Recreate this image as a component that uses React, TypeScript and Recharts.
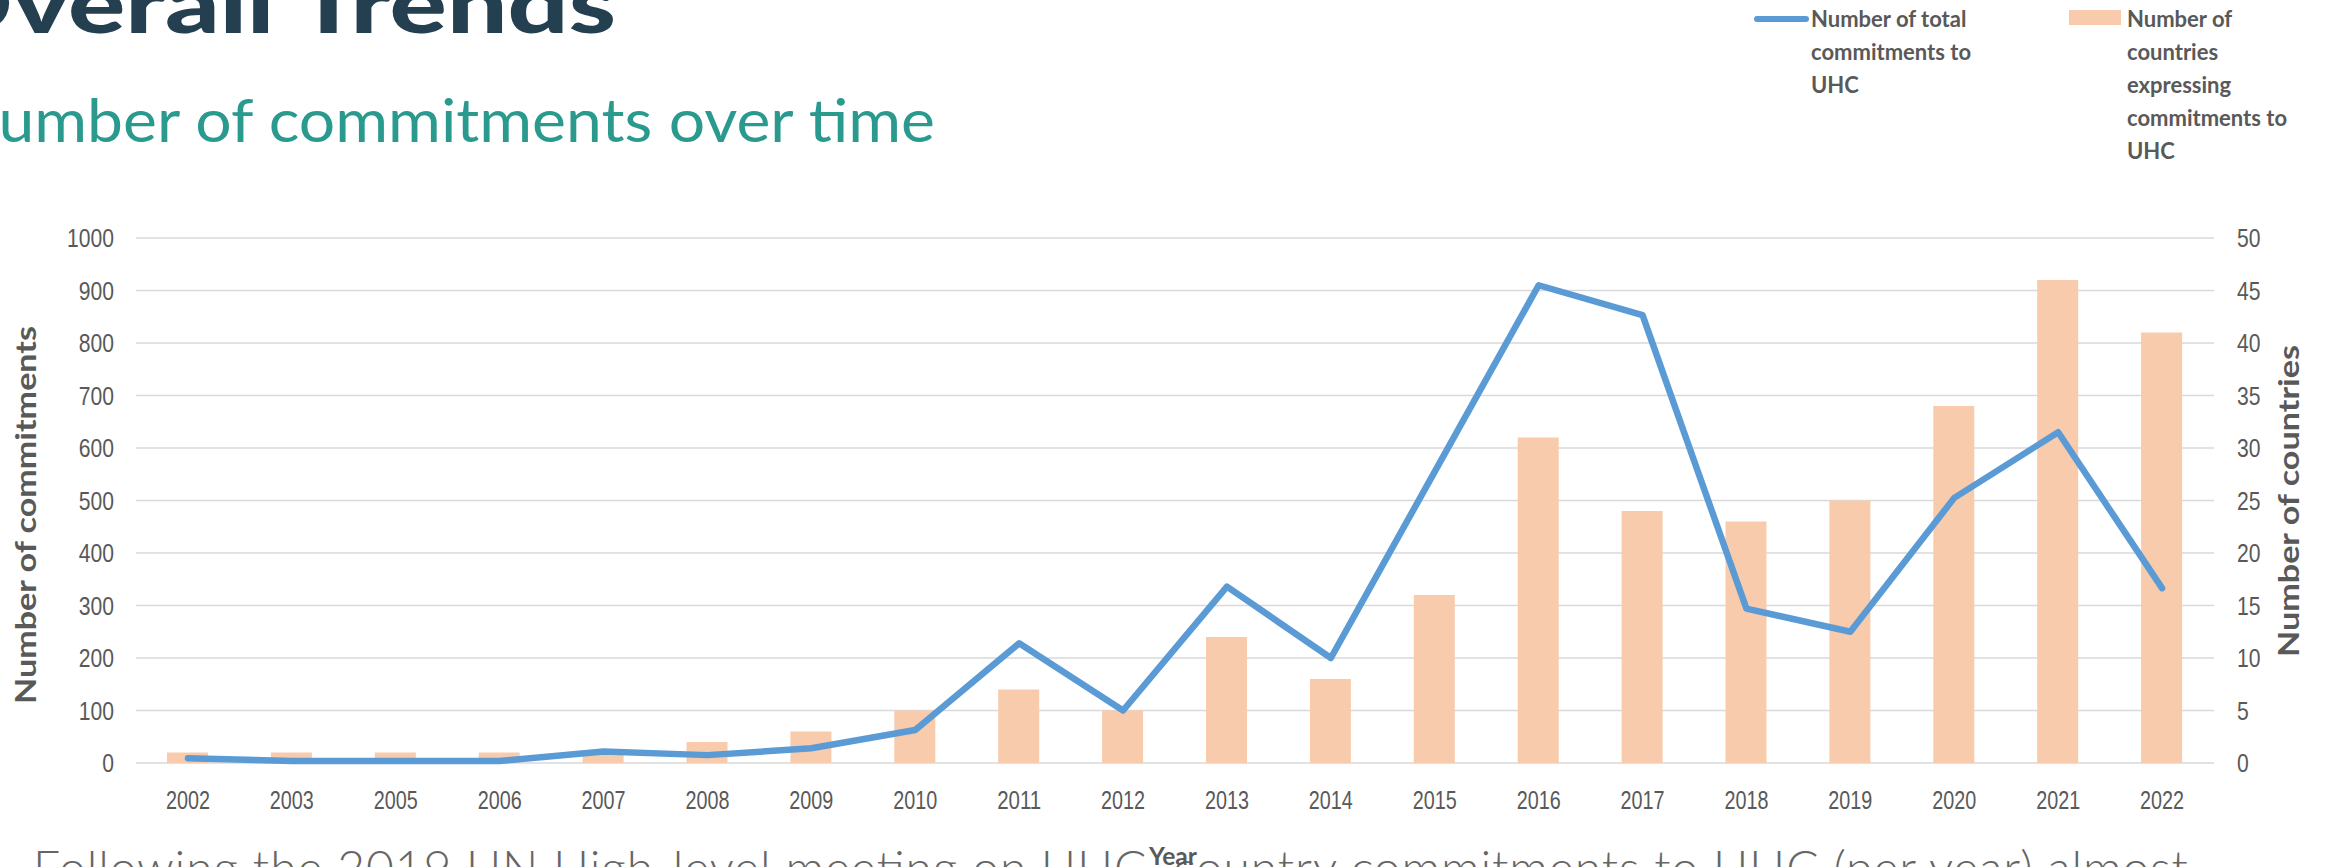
import React from 'react';
import { ComposedChart, Bar, Line, XAxis, YAxis, CartesianGrid } from 'recharts';

const years = ['2002', '2003', '2005', '2006', '2007', '2008', '2009', '2010', '2011', '2012', '2013', '2014', '2015', '2016', '2017', '2018', '2019', '2020', '2021', '2022'];
const totalCommitments = [9, 4, 4, 4, 22, 15, 28, 63, 228, 100, 336, 200, 555, 910, 853, 294, 250, 505, 630, 333];
const countriesCommitting = [1, 1, 1, 1, 1, 2, 3, 5, 7, 5, 12, 8, 16, 31, 24, 23, 25, 34, 46, 41];
const leftTicks = [0, 100, 200, 300, 400, 500, 600, 700, 800, 900, 1000];
const rightTicks = [0, 5, 10, 15, 20, 25, 30, 35, 40, 45, 50];

const lineLegend = ['Number of total', 'commitments to', 'UHC'];
const barLegend = ['Number of', 'countries', 'expressing', 'commitments to', 'UHC'];

const data = years.map((year, i) => ({ year, total: totalCommitments[i], countries: countriesCommitting[i] }));

const W = 2326;
const H = 867;
const TICK_COLOR = '#595959';
const LINE_COLOR = '#5b9bd5';
const BAR_COLOR = '#f8cbad';
const TICK_FONT = "'Liberation Sans', Arial, sans-serif";
const LABEL_FONT = "Lato, 'Open Sans', sans-serif";

const LeftTick = (props: any) => {
  const { x, y, payload } = props;
  const s = String(payload.value);
  return (
    <text x={x - 22} y={y + 9} textAnchor="end" fontSize={25} fill={TICK_COLOR} fontFamily={TICK_FONT}
      textLength={s.length * 11.75} lengthAdjust="spacingAndGlyphs">{s}</text>
  );
};

const RightTick = (props: any) => {
  const { x, y, payload } = props;
  const s = String(payload.value);
  return (
    <text x={x + 23} y={y + 9} textAnchor="start" fontSize={25} fill={TICK_COLOR} fontFamily={TICK_FONT}
      textLength={s.length * 11.75} lengthAdjust="spacingAndGlyphs">{s}</text>
  );
};

const BottomTick = (props: any) => {
  const { x, y, payload } = props;
  const s = String(payload.value);
  return (
    <text x={x} y={y + 46} textAnchor="middle" fontSize={25} fill={TICK_COLOR} fontFamily={TICK_FONT}
      textLength={44} lengthAdjust="spacingAndGlyphs">{s}</text>
  );
};

export default function App() {
  return (
    <div style={{ position: 'absolute', left: 0, top: 0, width: W, height: H, background: '#ffffff', overflow: 'hidden' }}>
      <ComposedChart width={W} height={H} data={data} margin={{ top: 238, right: 0, bottom: 0, left: 0 }}>
        <CartesianGrid yAxisId="left" vertical={false} stroke="#d9d9d9" strokeWidth={1.5} />
        <XAxis dataKey="year" interval={0} axisLine={false} tickLine={false} tickSize={0} tickMargin={0} height={104} tick={<BottomTick />} />
        <YAxis yAxisId="left" orientation="left" width={136} domain={[0, 1000]} ticks={leftTicks} axisLine={false} tickLine={false} tickSize={0} tickMargin={0} tick={<LeftTick />} />
        <YAxis yAxisId="right" orientation="right" width={112} domain={[0, 50]} ticks={rightTicks} axisLine={false} tickLine={false} tickSize={0} tickMargin={0} tick={<RightTick />} />
        <Bar yAxisId="right" dataKey="countries" fill={BAR_COLOR} barSize={41} isAnimationActive={false} />
        <Line yAxisId="left" type="linear" dataKey="total" stroke={LINE_COLOR} strokeWidth={6.5} dot={false} activeDot={false}
          strokeLinecap="round" strokeLinejoin="round" isAnimationActive={false} />
      </ComposedChart>
      <svg width={W} height={H} style={{ position: 'absolute', left: 0, top: 0, pointerEvents: 'none' }}>
        <text x={616} y={33} textAnchor="end" fontSize={82} fontWeight={900} fill="#243f50" fontFamily={LABEL_FONT}
          textLength={690} lengthAdjust="spacingAndGlyphs">Overall Trends</text>
        <text x={935} y={142} textAnchor="end" fontSize={60} fontWeight={400} fill="#2a9a8f" fontFamily={LABEL_FONT}
          textLength={985} lengthAdjust="spacingAndGlyphs">Number of commitments over time</text>

        <line x1={1757} y1={19} x2={1806} y2={19} stroke={LINE_COLOR} strokeWidth={6} strokeLinecap="round" />
        {lineLegend.map((t, i) => (
          <text key={t} x={1811} y={27 + i * 33} fontSize={22} fontWeight={700} fill={TICK_COLOR} fontFamily={LABEL_FONT}>{t}</text>
        ))}
        <rect x={2069} y={10} width={52} height={15} fill={BAR_COLOR} />
        {barLegend.map((t, i) => (
          <text key={t} x={2127} y={27 + i * 33} fontSize={22} fontWeight={700} fill={TICK_COLOR} fontFamily={LABEL_FONT}>{t}</text>
        ))}

        <g transform="translate(26,515) rotate(-90)">
          <text x={0} y={0} dy="0.36em" textAnchor="middle" fontSize={29} fontWeight={700} fill={TICK_COLOR} fontFamily={LABEL_FONT}
            textLength={378} lengthAdjust="spacingAndGlyphs">Number of commitments</text>
        </g>
        <g transform="translate(2289,501) rotate(-90)">
          <text x={0} y={0} dy="0.36em" textAnchor="middle" fontSize={29} fontWeight={700} fill={TICK_COLOR} fontFamily={LABEL_FONT}
            textLength={312} lengthAdjust="spacingAndGlyphs">Number of countries</text>
        </g>

        <text x={33} y={885} fontSize={48} fontWeight={300} fill="#666666" fontFamily={LABEL_FONT}
          textLength={2155} lengthAdjust="spacing">Following the 2019 UN High-level meeting on UHC, country commitments to UHC (per year) almost</text>
        <text x={1173} y={865} textAnchor="middle" fontSize={25} fontWeight={700} fill={TICK_COLOR} fontFamily={LABEL_FONT}
          textLength={48} lengthAdjust="spacingAndGlyphs">Year</text>
      </svg>
    </div>
  );
}
